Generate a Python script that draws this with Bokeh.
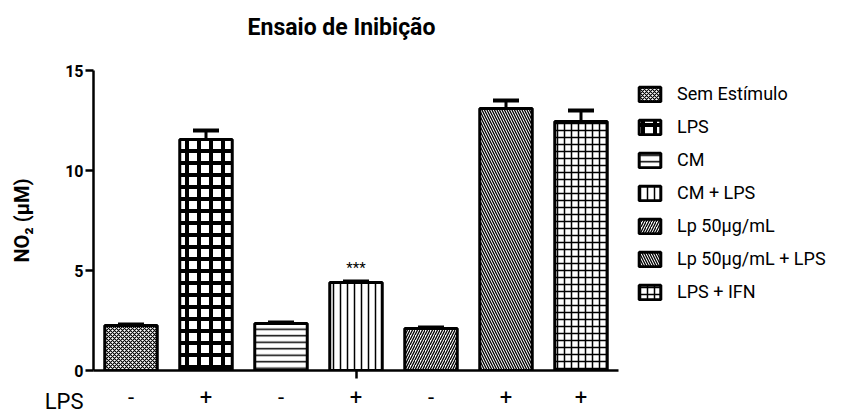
from bokeh.plotting import figure
from bokeh.layouts import row
from bokeh.models import (ColumnDataSource, Range1d, LinearAxis, FixedTicker, Legend,
                          LegendItem, Label, Whisker, TeeHead)
from bokeh.embed import file_html
from bokeh.resources import INLINE
from bokeh.core.properties import value

# ---- data ----
groups = ["Sem Estímulo", "LPS", "CM", "CM + LPS", "Lp 50μg/mL", "Lp 50μg/mL + LPS", "LPS + IFN"]
means = [2.25, 11.55, 2.35, 4.4, 2.1, 13.1, 12.45]
errors = [0.05, 0.45, 0.05, 0.05, 0.05, 0.4, 0.55]
lps_labels = ["-", "+", "-", "+", "-", "+", "+"]
signif = ["", "", "", "***", "", "", ""]
y_ticks = [0, 5, 10, 15]

# ---- styles ----
patterns = ["diagonal_cross", "cross", "horizontal_line", "vertical_line",
            "right_diagonal_line", "left_diagonal_line", "cross"]
scales = [4, 12, 6.5, 7, 5, 5, 7]
weights = [1.1, 4.0, 1.5, 1.5, 1.3, 1.3, 1.5]

FONT = "Roboto"

xs = list(range(len(groups)))
src = ColumnDataSource(dict(
    x=xs, mean=means, upper=[m + e for m, e in zip(means, errors)],
    group=groups, pat=patterns, scale=scales, weight=weights, sig=signif,
))

bar_style = dict(fill_color="white", line_color="black", line_width=3,
                 hatch_pattern="pat", hatch_scale="scale", hatch_weight="weight",
                 hatch_color="black")

p = figure(width=630, height=417, output_backend="svg", toolbar_location=None,
           x_range=Range1d(-0.5, 6.5), y_range=Range1d(0, 15),
           min_border_left=93, min_border_right=12, min_border_top=70,
           min_border_bottom=47, x_axis_location=None, y_axis_location=None)
p.outline_line_color = None
p.xgrid.visible = False
p.ygrid.visible = False
p.background_fill_color = "white"

bars = p.vbar(x="x", top="mean", width=0.7, source=src, **bar_style)

wh = Whisker(source=src, base="x", upper="upper", lower="mean", dimension="height",
             line_width=3, line_color="black", level="overlay",
             upper_head=TeeHead(size=26, line_width=4, line_color="black"),
             lower_head=None)
p.add_layout(wh)

p.text(x="x", y="upper", text="sig", source=src, text_align="center",
       text_baseline="bottom", y_offset=-5, text_font_size="15px",
       text_font=value(FONT), text_color="black")

# title and row label live in the top panel (not clipped to the frame)
p.add_layout(Label(x=248, y=43, x_units="screen", y_units="screen",
                   text="Ensaio de Inibição", text_align="center", text_color="black",
                   text_baseline="middle", text_font=FONT,
                   text_font_size="23px", text_font_style="bold"), "above")
p.add_layout(Label(x=-10, y=-358, x_units="screen", y_units="screen", text="LPS",
                   text_align="right", text_baseline="middle", text_color="black",
                   text_font=FONT, text_font_size="22px"), "above")

# y axis
yax = LinearAxis(ticker=FixedTicker(ticks=y_ticks), axis_label="NO₂ (μM)")
yax.axis_line_width = 2.5
yax.major_tick_line_width = 2.5
yax.major_tick_out = 8
yax.major_tick_in = 0
yax.minor_tick_line_color = None
yax.major_label_text_font = FONT
yax.major_label_text_font_size = "16px"
yax.major_label_text_font_style = "bold"
yax.major_label_text_color = "black"
yax.major_label_standoff = 2
yax.axis_label_text_font = FONT
yax.axis_label_text_font_size = "20px"
yax.axis_label_text_font_style = "bold"
yax.axis_label_text_color = "black"
yax.axis_label_standoff = 28
p.add_layout(yax, "left")

# x axis line with single tick
xax = LinearAxis(ticker=FixedTicker(ticks=[3]), major_label_overrides={3: ""})
xax.axis_line_width = 2.5
xax.major_tick_line_width = 2.5
xax.major_tick_out = 8
xax.major_tick_in = 0
xax.minor_tick_line_color = None
xax.major_label_text_font_size = "1px"
xax.major_label_standoff = 0
p.add_layout(xax, "below")

# LPS +/- labels
xlab = LinearAxis(ticker=FixedTicker(ticks=xs),
                  major_label_overrides={i: s for i, s in zip(xs, lps_labels)})
xlab.axis_line_color = None
xlab.major_tick_line_color = None
xlab.minor_tick_line_color = None
xlab.major_label_text_font = FONT
xlab.major_label_text_font_size = "22px"
xlab.major_label_text_color = "black"
xlab.major_label_standoff = 4
p.add_layout(xlab, "below")

# ---- legend panel ----
pl = figure(width=213, height=417, output_backend="svg", toolbar_location=None,
            x_range=Range1d(-0.5, 6.5), y_range=Range1d(0, 15), min_border=0,
            x_axis_location=None, y_axis_location=None)
pl.outline_line_color = None
pl.xgrid.visible = False
pl.ygrid.visible = False
lbars = pl.vbar(x="x", top="mean", width=0.7, source=src, **bar_style)
lbars.visible = False

items = [LegendItem(label=g, renderers=[lbars], index=i) for i, g in enumerate(groups)]
leg = Legend(items=items, location=(6, 68), glyph_width=27, glyph_height=18,
             label_height=18, spacing=12, label_standoff=14, padding=0, margin=0,
             border_line_color=None, background_fill_alpha=0,
             label_text_font=FONT, label_text_font_size="18px",
             label_text_color="black")
pl.add_layout(leg, "center")

open("out.html", "w").write(file_html(row(p, pl), INLINE))
